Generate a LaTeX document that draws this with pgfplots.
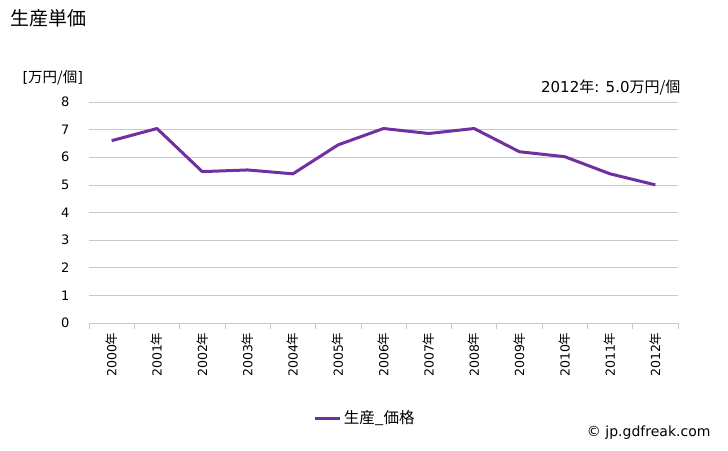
\documentclass[border=0pt]{standalone}
\usepackage{fontspec}
\setmainfont{DejaVu Sans}
\newfontfamily\jp{Noto Sans CJK JP}
\usepackage{pgfplots}
\pgfplotsset{compat=1.18}
\definecolor{lineC}{HTML}{7030A0}
\definecolor{gridC}{HTML}{C8C8C8}
\begin{document}
\begin{tikzpicture}
\useasboundingbox (0pt,0pt) rectangle (728pt,450pt);
\node[anchor=west,font=\jp\fontsize{19}{21}\selectfont] at (7pt,432pt) {生産単価};
\node[anchor=west,font=\fontsize{14.5}{16}\selectfont] at (19pt,372pt) {[{\jp 万円/個}]};
\node[anchor=east,font=\fontsize{15}{17}\selectfont] at (684pt,362pt) {2012{\jp 年}: 5.0{\jp 万円/個}};
\node[anchor=east,font=\fontsize{14}{16}\selectfont] at (714pt,17pt) {© jp.gdfreak.com};
\begin{axis}[
  at={(89pt,127pt)}, anchor=south west,
  width=589pt, height=221pt, scale only axis,
  xmin=-0.5, xmax=12.5, ymin=0, ymax=8,
  axis x line*=bottom, axis y line*=left,
  x axis line style={-, draw=gridC},
  y axis line style={draw=none},
  ytick={0,1,...,8},
  ymajorgrids, grid style={draw=gridC, line width=0.6pt},
  xtick={0,...,12},
  xticklabels={2000{\jp 年},2001{\jp 年},2002{\jp 年},2003{\jp 年},2004{\jp 年},2005{\jp 年},2006{\jp 年},2007{\jp 年},2008{\jp 年},2009{\jp 年},2010{\jp 年},2011{\jp 年},2012{\jp 年}},
  minor xtick={-0.5,0.5,...,12.5},
  major tick length=0pt, minor tick length=6pt,
  tick align=outside,
  minor x tick style={draw=gridC, line width=0.6pt},
  major tick style={draw=none},
  x tick label style={rotate=90, anchor=east, font=\fontsize{12.5}{14}\selectfont, xshift=-6pt},
  y tick label style={font=\fontsize{13}{15}\selectfont, xshift=-16pt},
  /pgf/number format/assume math mode=true,
  legend style={at={(0.469,-0.43)}, anchor=center, draw=none, fill=none, font=\jp\fontsize{15.5}{17}\selectfont},
  legend image code/.code={\draw[#1, line width=3pt] (0pt,0pt) -- (25pt,0pt);},
]
\addplot[lineC, line width=3pt, line join=round] coordinates {
(0,6.6) (1,7.04) (2,5.48) (3,5.54) (4,5.4) (5,6.45) (6,7.04) (7,6.86) (8,7.04) (9,6.2) (10,6.02) (11,5.4) (12,5.0)};
\addlegendentry{生産\_価格}
\end{axis}
\end{tikzpicture}
\end{document}
